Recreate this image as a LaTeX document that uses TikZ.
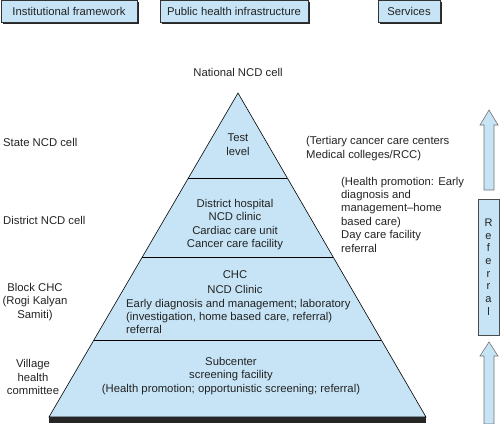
\documentclass[tikz,border=0pt]{standalone}
\usepackage{fontspec}
\setmainfont{Liberation Sans}
\usetikzlibrary{shadows,calc}
\definecolor{pyrblue}{RGB}{198,228,246}
\definecolor{txtcol}{RGB}{35,35,35}
\tikzset{
  lbl/.style={inner sep=0pt, text=txtcol, font=\fontsize{11.3}{13.4}\selectfont, align=center},
  lbll/.style={lbl, align=left, anchor=west},
  hdr/.style={draw=black!80, line width=0.6pt, fill=pyrblue, inner sep=0pt, text=txtcol,
    font=\fontsize{11.3}{13.4}\selectfont, minimum height=22pt,
    copy shadow={shadow xshift=2pt, shadow yshift=-2pt, fill=black!85, draw=none}},
  arr/.style={fill=pyrblue, draw=black!55, line width=0.6pt},
}
\begin{document}
\begin{tikzpicture}[x=1pt,y=-1pt]
\useasboundingbox (0,0) rectangle (500,423);
% header boxes
\node[hdr, minimum width=136pt] (h1) at (69,11) {Institutional framework};
\node[hdr, minimum width=148pt] (h2) at (234,11) {Public health infrastructure};
\node[hdr, minimum width=62pt] (h3) at (409,11) {Services};
% pyramid
\fill[black!85] (49,416) rectangle (426,423);
\draw[fill=pyrblue, line width=0.6pt] (238,93) -- (426,417) -- (49,417) -- cycle;
\coordinate (pA) at (238,93);
\coordinate (pL) at (49,417);
\coordinate (pR) at (426,417);
\draw[line width=0.6pt] ($(pA)!85/324!(pL)$) -- ($(pA)!85/324!(pR)$);
\draw[line width=0.6pt] ($(pA)!164/324!(pL)$) -- ($(pA)!164/324!(pR)$);
\draw[line width=0.6pt] ($(pA)!247/324!(pL)$) -- ($(pA)!247/324!(pR)$);
% labels
\node[lbl] (nat) at (238,72) {National NCD cell};
\node[lbll] (state) at (3,142) {State NCD cell};
\node[lbll] (dist) at (3,220) {District NCD cell};
\node[lbl] (block) at (35,302) {Block CHC\\(Rogi Kalyan\\Samiti)};
\node[lbl] (vill) at (33,377) {Village\\health\\committee};
\node[lbl] (test) at (238,144.5) {Test\\level};
\node[lbl] (dh) at (235,224.5) {District hospital\\NCD clinic\\Cardiac care unit\\Cancer care facility};
\node[lbl] (chc) at (235,275) {CHC};
\node[lbl] (ncdc) at (235,289) {NCD Clinic};
\node[lbll] (early) at (126,316.5) {Early diagnosis and management; laboratory\\(investigation, home based care, referral)\\referral};
\node[lbl] (sub) at (231,376) {Subcenter\\screening facility\\(Health promotion; opportunistic screening; referral)};
\node[lbll] (tert) at (306,148.5) {(Tertiary cancer care centers\\Medical colleges/RCC)};
\node[lbll] (hp) at (341,214.5) {(Health promotion: Early\\diagnosis and\\management--home\\based care)\\Day care facility\\referral};
% services arrows
\draw[arr] (489,110) -- (498,125) -- (494,125) -- (494,190) -- (484,190) -- (484,125) -- (480,125) -- cycle;
\node[draw=black!70, line width=0.6pt, fill=pyrblue, minimum width=21pt, minimum height=136pt, inner sep=0pt] (ref) at (488.5,267) {};
\node[inner sep=0pt, text=txtcol, font=\fontsize{11}{12.7}\selectfont, align=center] (reft) at (ref.center) {R\\e\\f\\e\\r\\r\\a\\l};
\draw[arr] (489,342) -- (498,356) -- (494,356) -- (494,424) -- (484,424) -- (484,356) -- (480,356) -- cycle;
\end{tikzpicture}
\end{document}
